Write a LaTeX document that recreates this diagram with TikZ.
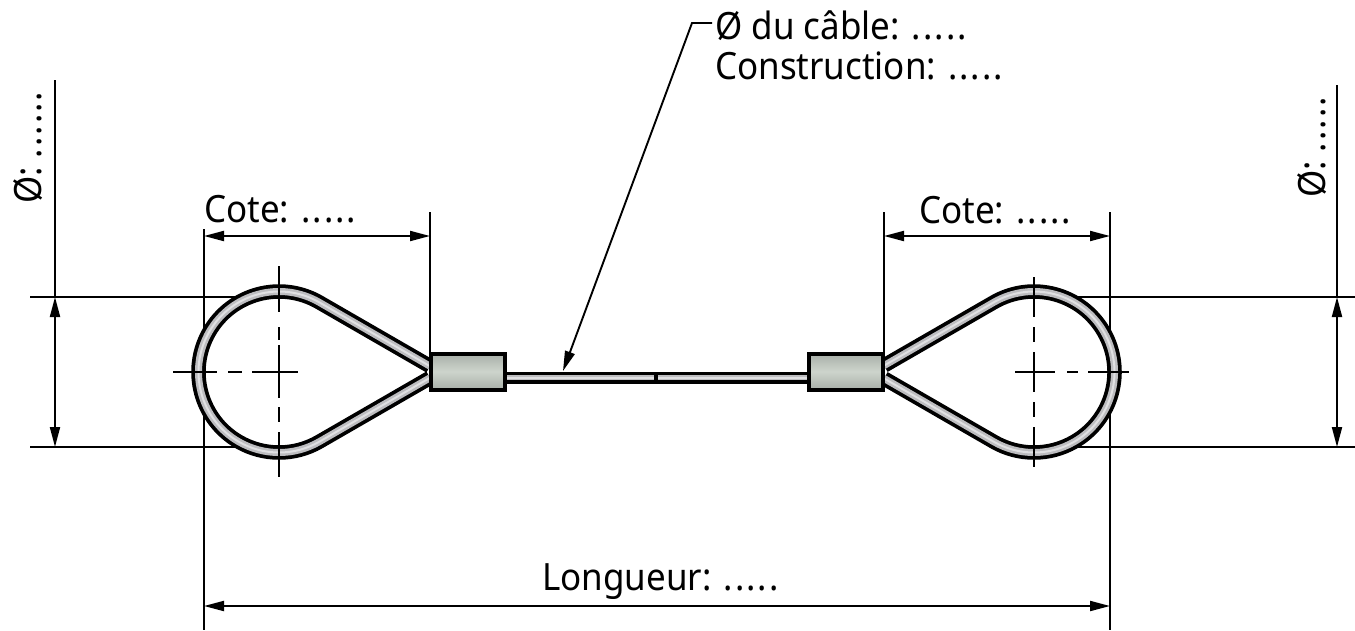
\documentclass[tikz,border=0pt]{standalone}
\usepackage{fontspec}
\setmainfont[FakeStretch=0.93]{Noto Sans}
\usetikzlibrary{arrows.meta}
\tikzset{
 x=1pt,y=-1pt,
 dim/.style={line width=2pt,black,{Triangle[length=20pt,width=10pt]}-{Triangle[length=20pt,width=10pt]}},
 leader/.style={line width=1.9pt,black,-{Triangle[length=20pt,width=10pt]}},
 ext/.style={line width=1.9pt,black},
 cen/.style={line width=1.9pt,black},
 lab/.style={font=\fontsize{37.6}{42}\selectfont,inner sep=0pt,text=black},
 ferrule/.style={draw=black,line width=4pt,top color=ferA,bottom color=ferA,middle color=ferB},
}
\definecolor{ferA}{HTML}{A8AFA8}
\definecolor{ferB}{HTML}{CDD4CC}
\definecolor{rope}{HTML}{BDBDC0}
\definecolor{ropeL}{HTML}{E0E0E2}
\newcommand{\dk}{\kern2pt}
\newcommand{\ropepath}[1]{\draw[#1,line join=round] (430,366.2) -- (319.25,302.3) arc[start angle=-60,end angle=-300,radius=80.5] -- (430,377.8);}
\newcommand{\ropepathR}[1]{\draw[#1,line join=round] (884,365.6) -- (993.75,302.3) arc[start angle=-120,end angle=120,radius=80.5] -- (884,378.4);}
\begin{document}
\begin{tikzpicture}
\useasboundingbox (0,0) rectangle (1355,630);
% extension lines
\coordinate (L1a) at (30,297); \coordinate (L1b) at (238,297);
\coordinate (L2a) at (30,447); \coordinate (L2b) at (238,447);
\draw[ext] (L1a) -- (L1b); \draw[ext] (L2a) -- (L2b);
\coordinate (R1a) at (1076,297); \coordinate (R1b) at (1355,297);
\coordinate (R2a) at (1076,447); \coordinate (R2b) at (1355,447);
\draw[ext] (R1a) -- (R1b); \draw[ext] (R2a) -- (R2b);
\coordinate (VA) at (204,229); \coordinate (VAb) at (204,630);
\coordinate (VB) at (1110,212); \coordinate (VBb) at (1110,630);
\coordinate (VC) at (430,212); \coordinate (VCb) at (430,352);
\coordinate (VD) at (884,212); \coordinate (VDb) at (884,352);
\draw[ext] (VA) -- (VAb); \draw[ext] (VB) -- (VBb);
\draw[ext] (VC) -- (VCb); \draw[ext] (VD) -- (VDb);
\coordinate (VE) at (55,80); \coordinate (VEb) at (55,297);
\coordinate (VF) at (1337,85); \coordinate (VFb) at (1337,297);
\draw[ext] (VE) -- (VEb); \draw[ext] (VF) -- (VFb);
% ropes
\foreach \cmd in {\ropepath,\ropepathR}{
 \cmd{line width=14.5pt,black}
 \cmd{line width=7pt,rope}
 \cmd{line width=2pt,ropeL}
}
% cable
\node[fill=black,minimum width=302pt,minimum height=12pt,inner sep=0pt] (cableB) at (656,377.5) {};
\node[fill=rope,minimum width=302pt,minimum height=5pt,inner sep=0pt] (cableG) at (656,377.5) {};
\node[fill=ropeL,minimum width=302pt,minimum height=2pt,inner sep=0pt] (cableL) at (656,377.5) {};
\node[fill=black,minimum width=3.5pt,minimum height=12pt,inner sep=0pt] (brk) at (656,377.5) {};
% ferrules
\node[ferrule,minimum width=74pt,minimum height=36pt,inner sep=0pt] (F1) at (468,371.5) {};
\node[ferrule,minimum width=74pt,minimum height=36pt,inner sep=0pt] (F2) at (845.5,371.5) {};
% centre lines
\draw[cen] (279,266) -- (279,312);
\draw[cen] (279,327) -- (279,340);
\draw[cen] (279,345) -- (279,398);
\draw[cen] (279,407) -- (279,422);
\draw[cen] (279,432) -- (279,477);
\draw[cen] (1034,277) -- (1034,317);
\draw[cen] (1034,327) -- (1034,342);
\draw[cen] (1034,352) -- (1034,392);
\draw[cen] (1034,402) -- (1034,417);
\draw[cen] (1034,427) -- (1034,467);
\draw[cen] (173,372) -- (217,372);
\draw[cen] (228,372) -- (242,372);
\draw[cen] (252,372) -- (298,372);
\draw[cen] (1015,372) -- (1055,372);
\draw[cen] (1067,372) -- (1078,372);
\draw[cen] (1088,372) -- (1129,372);
% dimensions
\coordinate (c1) at (204,236); \coordinate (c2) at (430,236);
\coordinate (c3) at (884,236); \coordinate (c4) at (1110,236);
\coordinate (l1) at (204,606); \coordinate (l2) at (1110,606);
\coordinate (d1) at (55,297); \coordinate (d2) at (55,447);
\coordinate (d3) at (1337,297); \coordinate (d4) at (1337,447);
\draw[dim] (c1) -- (c2);
\draw[dim] (c3) -- (c4);
\draw[dim] (l1) -- (l2);
\draw[dim] (d1) -- (d2);
\draw[dim] (d3) -- (d4);
% leader
\coordinate (t) at (563,371); \coordinate (k) at (692,23); \coordinate (h) at (712,23);
\draw[leader] (h) -- (k) -- (t);
% labels
\node[lab,anchor=base west] (n1) at (715,39) {Ø du câble: .\dk.\dk.\dk.\dk.};
\node[lab,anchor=base west] (n2) at (715,79) {Construction: .\dk.\dk.\dk.\dk.};
\node[lab,anchor=base west] (n3) at (204,222) {Cote: .\dk.\dk.\dk.\dk.};
\node[lab,anchor=base west] (n4) at (919,223) {Cote: .\dk.\dk.\dk.\dk.};
\node[lab,anchor=base west] (n5) at (542,590) {Longueur: .\dk.\dk.\dk.\dk.};
\node[lab,anchor=base west,rotate=90] (n6) at (41,204) {Ø: .\dk.\dk.\dk.\dk.\dk.};
\node[lab,anchor=base west,rotate=90] (n7) at (1325,198) {Ø: .\dk.\dk.\dk.\dk.};
\end{tikzpicture}
\end{document}
